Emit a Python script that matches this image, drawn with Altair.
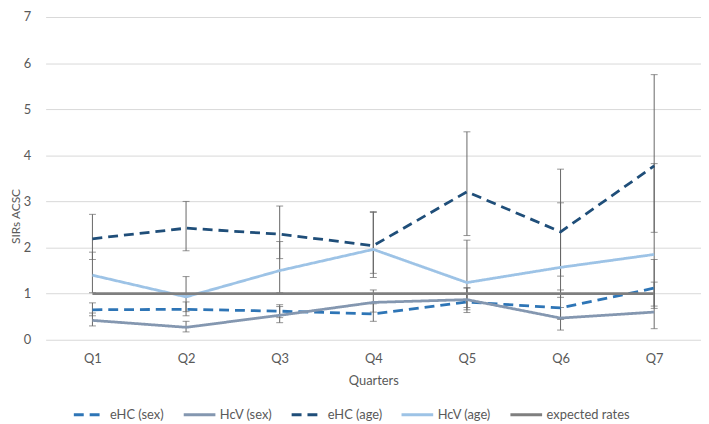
import altair as alt
import pandas as pd

quarters = ["Q1", "Q2", "Q3", "Q4", "Q5", "Q6", "Q7"]
series_names = ["eHC (sex)", "HcV (sex)", "eHC (age)", "HcV (age)", "expected rates"]

ehc_sex = [0.65, 0.66, 0.62, 0.56, 0.82, 0.69, 1.12]
hcv_sex = [0.42, 0.27, 0.53, 0.81, 0.87, 0.47, 0.60]
ehc_age = [2.19, 2.42, 2.29, 2.04, 3.21, 2.34, 3.77]
hcv_age = [1.40, 0.93, 1.50, 1.96, 1.24, 1.57, 1.85]
expected = [1.0, 1.0, 1.0, 1.0, 1.0, 1.0, 1.0]

ehc_sex_lo = [0.52, 0.52, 0.48, 0.40, 0.59, 0.44, 0.68]
ehc_sex_hi = [0.80, 0.82, 0.76, 0.78, 1.13, 1.08, 1.74]
hcv_sex_lo = [0.30, 0.17, 0.37, 0.60, 0.65, 0.21, 0.24]
hcv_sex_hi = [0.58, 0.40, 0.72, 1.08, 1.12, 0.70, 1.25]
ehc_age_lo = [1.74, 1.93, 1.76, 1.44, 2.26, 1.38, 2.33]
ehc_age_hi = [2.72, 3.00, 2.90, 2.76, 4.51, 3.70, 5.75]
hcv_age_lo = [1.02, 0.61, 1.02, 1.35, 0.70, 0.92, 0.73]
hcv_age_hi = [1.90, 1.37, 2.13, 2.78, 2.16, 2.97, 3.82]

colors = ["#2E75B6", "#8497B0", "#1F4E79", "#9DC3E6", "#7F7F7F"]
dashes = [[10, 6], [1, 0], [10, 6], [1, 0], [1, 0]]

values = [ehc_sex, hcv_sex, ehc_age, hcv_age, expected]
lows = [ehc_sex_lo, hcv_sex_lo, ehc_age_lo, hcv_age_lo, None]
highs = [ehc_sex_hi, hcv_sex_hi, ehc_age_hi, hcv_age_hi, None]

rows = []
for s, v, lo, hi in zip(series_names, values, lows, highs):
    for i, q in enumerate(quarters):
        rows.append({
            "quarter": q,
            "series": s,
            "value": v[i],
            "lo": lo[i] if lo else None,
            "hi": hi[i] if hi else None,
        })
df = pd.DataFrame(rows)
err = df.dropna(subset=["lo", "hi"])

FONT = "Lato"
TXT = "#595959"

x_enc = alt.X(
    "quarter:N",
    sort=quarters,
    scale=alt.Scale(type="point", padding=0.5),
    axis=alt.Axis(
        title="Quarters", labelAngle=0, ticks=False, tickSize=0, domain=False,
        labelPadding=13, titlePadding=9, grid=False,
    ),
)
y_scale = alt.Scale(domain=[0, 7], nice=False)
y_axis = alt.Axis(
    title="SIRs ACSC", values=[0, 1, 2, 3, 4, 5, 6, 7], ticks=False, tickSize=0,
    domain=False, labelPadding=15, grid=True,
    titleX=-26, titleY=201, titleAngle=270, titleBaseline="alphabetic", titleAlign="center",
    titleFontSize=12,
)

base = alt.Chart(err)

rules = base.mark_rule(color="#666666", strokeWidth=1).encode(
    x=x_enc,
    y=alt.Y("lo:Q", scale=y_scale, axis=y_axis),
    y2="hi:Q",
)
cap_lo = base.mark_tick(color="#666666", size=7, thickness=1).encode(
    x=alt.X("quarter:N", sort=quarters), y=alt.Y("lo:Q")
)
cap_hi = base.mark_tick(color="#666666", size=7, thickness=1).encode(
    x=alt.X("quarter:N", sort=quarters), y=alt.Y("hi:Q")
)

legend_cfg = dict(
    title=None, orient="none", legendX=27, legendY=384, direction="horizontal",
    columns=5, symbolType="stroke", symbolSize=1024, symbolStrokeWidth=3,
    labelFontSize=13, labelColor=TXT, labelFont=FONT, columnPadding=13,
    labelOffset=3,
)

lines = alt.Chart(df).mark_line(strokeWidth=2.8).encode(
    x=alt.X("quarter:N", sort=quarters),
    y=alt.Y("value:Q"),
    color=alt.Color(
        "series:N",
        scale=alt.Scale(domain=series_names, range=colors),
        legend=alt.Legend(**legend_cfg),
    ),
    strokeDash=alt.StrokeDash(
        "series:N",
        scale=alt.Scale(domain=series_names, range=dashes),
        legend=alt.Legend(**legend_cfg),
    ),
    order=alt.Order("series:N"),
)

chart = (
    alt.layer(rules, cap_lo, cap_hi, lines)
    .properties(
        width=662, height=326,
        autosize=alt.AutoSizeParams(type="none"),
        padding={"left": 38, "top": 7, "right": 0, "bottom": 83},
    )
    .configure_view(stroke=None)
    .configure_axis(
        labelFont=FONT, titleFont=FONT, labelFontSize=13, titleFontSize=13,
        labelColor=TXT, titleColor=TXT, titleFontWeight="normal",
        gridColor="#D9D9D9", gridWidth=1,
    )
)

chart.save("out.html", embed_options={"renderer": "svg", "actions": False})
